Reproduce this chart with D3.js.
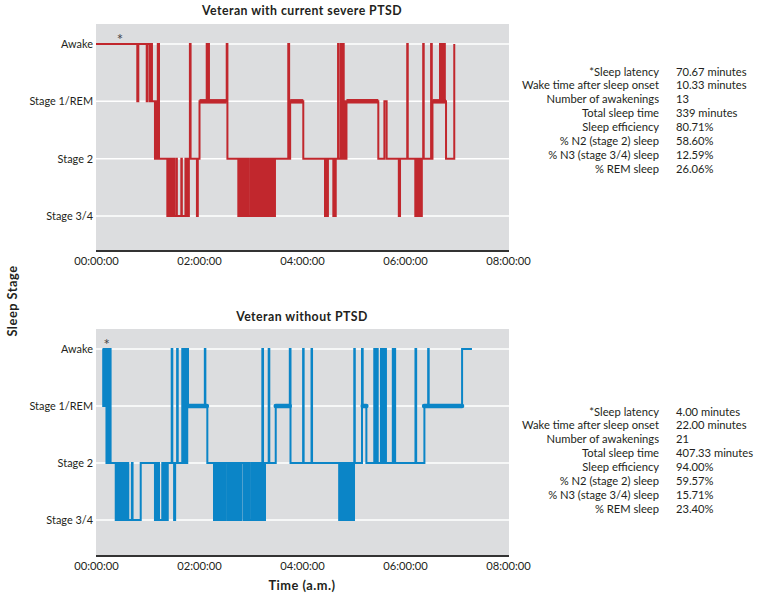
<!DOCTYPE html>
<html>
<head>
<meta charset="utf-8">
<script src="https://cdn.jsdelivr.net/npm/d3@7"></script>
<style>
  html, body { margin: 0; padding: 0; background: #ffffff; }
  svg { display: block; font-family: Lato, "Open Sans", sans-serif; }
</style>
</head>
<body>
<svg id="chart" width="764" height="599"></svg>
<script>
// ---------------- data ----------------
const stageLabels = ["Awake", "Stage 1/REM", "Stage 2", "Stage 3/4"];
const timeTicks = [0, 120, 240, 360, 480]; // minutes
const panelTitles = ["Veteran with current severe PTSD", "Veteran without PTSD"];

// [minute, stage] change points (0 = Awake, 1 = Stage 1/REM, 2 = Stage 2, 3 = Stage 3/4)
const ptsdSteps = [
  [0,0],
  [48.1,1],[49.3,0],[59.1,1],[60.2,0],[62.9,1],[64.1,0],[65.2,1],
  [68.7,2],[69.9,1],[70.8,2],[72.0,0],[73.4,2],
  [83.1,3],[84.1,2],[85.1,3],[86.1,2],[87.1,3],[88.1,2],[89.1,3],[90.1,2],[91.1,3],
  [93.6,2],[94.2,3],
  [99.4,2],[100.0,3],[104.2,2],[104.8,3],[106.4,2],[107.2,3],[108.2,2],[109.4,0],[110.2,2],
  [117.6,3],[118.6,2],
  [120.6,1],[129.0,0],[129.8,1],[130.8,0],[131.6,1],
  [152.3,0],[153.1,2],
  [165.8,3],[167.0,2],[168.2,3],[169.4,2],[170.6,3],[171.8,2],[173.0,3],[174.2,2],[175.4,3],[176.6,2],[177.8,3],
  [180.2,2],[181.4,3],[182.6,2],[183.8,3],[185.0,2],[186.2,3],[187.4,2],[188.6,3],[189.8,2],[191.0,3],[191.9,2],
  [193.4,3],[194.6,2],[195.8,3],[197.0,2],[198.2,3],[199.4,2],[200.6,3],[201.8,2],[203.0,3],[204.2,2],[205.4,3],[206.6,2],[207.8,3],[208.5,2],
  [224.0,0],[225.0,2],[226.2,1],[241.5,2],
  [266.8,3],[267.4,2],[269.6,3],[270.2,2],[276.5,3],[277.3,2],[278.3,3],[279.3,2],
  [282.0,0],[282.6,2],[285.2,0],[285.8,1],[286.6,2],[287.4,1],[288.0,0],[288.6,1],[289.4,2],[290.2,1],[291.0,2],[291.8,1],
  [328.9,2],[336.0,1],[338.6,2],
  [352.8,3],[354.2,2],[362.6,0],[363.2,2],
  [372.0,3],[373.0,2],[374.0,3],[375.0,2],[376.6,3],[377.6,2],[378.6,3],[379.6,2],
  [381.2,0],[381.8,2],
  [390.4,0],[391.2,2],[392.0,1],
  [400.8,0],[401.6,1],[402.4,0],[403.2,1],[404.0,0],[404.8,1],[405.6,0],[406.4,1],
  [407.8,2],[417.4,0]
];
const ptsdREM = [[120.6,152.3],[226.2,241.5],[291.8,328.9],[392.0,407.8]];

const controlSteps = [
  [7.6,0],[8.4,1],[9.2,0],[10.0,1],[10.8,0],[11.6,1],[12.2,2],[13.0,0],[13.8,2],[14.6,0],[15.4,2],[16.2,0],[17.0,2],
  [23.0,3],[23.8,2],[24.6,3],[25.4,2],[26.4,3],[27.2,2],[28.0,3],[28.8,2],[29.6,3],[30.4,2],[31.2,3],[32.0,2],[32.8,3],[33.6,2],[34.4,3],[35.2,2],[36.0,3],[36.8,2],[37.6,3],
  [41.8,2],[42.6,3],[52.1,2],
  [68.7,3],[69.5,2],[70.3,3],[71.1,2],[71.9,3],[72.7,2],[73.4,3],[77.2,2],[78.0,3],[78.8,2],[79.6,3],[80.4,2],[81.2,3],[82.0,2],[82.8,3],[83.6,2],
  [88.2,0],[88.9,2],[91.0,3],[92.2,2],[94.5,0],[95.2,2],
  [100.5,0],[101.5,2],[102.5,0],[103.5,2],[104.5,0],[105.5,2],[106.3,0],[107.2,1],
  [126.8,0],[127.4,1],[129.7,2],
  [137.5,3],[138.7,2],[139.9,3],[141.1,2],[142.3,3],[143.3,2],[145.3,3],[146.5,2],[147.7,3],[148.9,2],[150.1,3],[151.1,2],
  [153.5,3],[154.7,2],[155.9,3],[157.1,2],[158.3,3],[159.5,2],[160.7,3],[161.9,2],[163.1,3],[164.3,2],[165.5,3],[166.7,2],[167.9,3],[169.1,2],
  [171.8,3],[173.0,2],[174.2,3],[175.4,2],[176.6,3],[177.8,2],[178.8,3],[181.2,2],[182.4,3],[183.6,2],[184.8,3],[186.0,2],[187.2,3],[188.4,2],[189.6,3],[190.8,2],[192.0,3],[193.0,2],
  [193.8,0],[194.6,3],[196.9,2],
  [201.2,0],[201.9,2],[209.4,1],[225.8,0],[226.6,2],
  [241.3,0],[241.9,2],[251.1,0],[251.7,2],
  [283.3,3],[284.2,2],[285.0,3],[286.0,2],[288.1,3],[289.0,2],[290.0,3],[290.9,2],[291.8,3],[293.9,2],[294.7,3],[295.6,2],[296.5,3],[297.4,2],[298.3,3],[299.2,2],[300.0,3],[300.6,2],
  [300.9,0],[301.5,2],
  [309.9,0],[310.7,1],[315.0,2],
  [324.2,0],[325.0,2],[325.8,0],[326.6,2],[327.4,0],[328.2,2],
  [332.0,0],[332.8,2],[333.6,0],[334.4,2],[335.2,0],[336.0,2],[336.8,0],[337.8,2],
  [345.8,0],[346.6,2],[347.6,0],[348.5,2],
  [372.2,0],[373.0,2],
  [382.6,1],[387.0,0],[387.6,1],
  [426.5,0],[438.0,0]
];
const controlREM = [[107.2,129.2],[209.4,225.8],[310.7,315.0],[382.2,426.5]];

const latencyMarks = [28, 12.4]; // minutes where "*" sits

const statLabels = ["*Sleep latency", "Wake time after sleep onset", "Number of awakenings", "Total sleep time",
  "Sleep efficiency", "% N2 (stage 2) sleep", "% N3 (stage 3/4) sleep", "% REM sleep"];
const ptsdStats = ["70.67 minutes", "10.33 minutes", "13", "339 minutes", "80.71%", "58.60%", "12.59%", "26.06%"];
const controlStats = ["4.00 minutes", "22.00 minutes", "21", "407.33 minutes", "94.00%", "59.57%", "15.71%", "23.40%"];

// ---------------- drawing ----------------
const svg = d3.select("#chart");
const textColor = "#231f20";
const fontSize = 11.2;
const tickFont = 10.9;
const boldFont = 12.3;

const x = d3.scaleLinear().domain([0, 480]).range([96, 508]);
const fmtTime = m => {
  const h = Math.floor(m / 60), mm = Math.round(m % 60);
  return String(h).padStart(2, "0") + ":" + String(mm).padStart(2, "0") + ":00";
};

const panels = [
  { title: panelTitles[0], steps: ptsdSteps, rem: ptsdREM, color: "#c1272d", top: 24, bottom: 251, y0: 44, y3: 216,
    star: latencyMarks[0], stats: ptsdStats, statY: 71.7, cap: "butt", titleY: 11 },
  { title: panelTitles[1], steps: controlSteps, rem: controlREM, color: "#0b85c7", top: 329, bottom: 556, y0: 349, y3: 520,
    star: latencyMarks[1], stats: controlStats, statY: 411.7, cap: "round", titleY: 317 }
];

panels.forEach(p => {
  const y = d3.scaleLinear().domain([0, 3]).range([p.y0, p.y3]);
  const g = svg.append("g");

  g.append("rect").attr("x", 96).attr("y", p.top).attr("width", 413).attr("height", p.bottom - p.top)
    .attr("fill", "#dcdddf");

  // gridlines
  g.selectAll("line.grid").data([0, 1, 2, 3]).join("line")
    .attr("class", "grid")
    .attr("x1", 96).attr("x2", 509)
    .attr("y1", d => y(d)).attr("y2", d => y(d))
    .attr("stroke", "#ffffff").attr("stroke-width", 1.5);

  // title
  g.append("text").attr("x", 302).attr("y", p.titleY).attr("dy", "0.35em")
    .attr("text-anchor", "middle").attr("font-weight", "bold").attr("font-size", boldFont)
    .attr("letter-spacing", "0.45px")
    .attr("fill", textColor).text(p.title);

  // y axis
  const yAxis = d3.axisLeft(y).tickValues([0, 1, 2, 3]).tickFormat(d => stageLabels[d]).tickSize(0).tickPadding(3);
  const ya = g.append("g").attr("transform", "translate(96,0)").call(yAxis);
  ya.select(".domain").remove();
  ya.selectAll("text").attr("font-size", tickFont).attr("fill", textColor).attr("font-family", "Lato, 'Open Sans', sans-serif");

  // x axis
  const xAxis = d3.axisBottom(x).tickValues(timeTicks).tickFormat(fmtTime).tickSize(0).tickPadding(6);
  const xa = g.append("g").attr("transform", `translate(0,${p.bottom})`).call(xAxis);
  xa.select(".domain").attr("d", "M96,0H509").attr("stroke", "#333333").attr("stroke-width", 2.2);
  xa.selectAll("text").attr("font-size", fontSize).attr("fill", textColor).attr("font-family", "Lato, 'Open Sans', sans-serif");

  // hypnogram line
  const line = d3.line().x(d => x(d[0])).y(d => y(d[1])).curve(d3.curveStepAfter);
  g.append("path").datum(p.steps).attr("d", line)
    .attr("fill", "none").attr("stroke", p.color).attr("stroke-width", 2).attr("stroke-linejoin", "miter");

  // REM bars (thick)
  g.selectAll("line.rem").data(p.rem).join("line")
    .attr("class", "rem")
    .attr("x1", d => x(d[0])).attr("x2", d => x(d[1]))
    .attr("y1", y(1)).attr("y2", y(1))
    .attr("stroke", p.color).attr("stroke-width", 4.5).attr("stroke-linecap", p.cap);

  // latency asterisk
  g.append("text").attr("x", x(p.star)).attr("y", p.y0 - 4).attr("dy", "0.35em")
    .attr("text-anchor", "middle").attr("font-size", 15).attr("fill", "#444444").text("*");

  // stats
  statLabels.forEach((lab, i) => {
    g.append("text").attr("x", 659).attr("y", p.statY + i * 13.85).attr("dy", "0.35em")
      .attr("text-anchor", "end").attr("font-size", fontSize).attr("fill", textColor).text(lab);
    g.append("text").attr("x", 676).attr("y", p.statY + i * 13.85).attr("dy", "0.35em")
      .attr("text-anchor", "start").attr("font-size", fontSize).attr("fill", textColor).text(p.stats[i]);
  });
});

// shared axis titles
svg.append("text").attr("transform", "translate(13,301) rotate(-90)").attr("dy", "0.35em")
  .attr("text-anchor", "middle").attr("font-weight", "bold").attr("font-size", boldFont + 0.5)
  .attr("letter-spacing", "0.5px")
  .attr("fill", textColor).text("Sleep Stage");
svg.append("text").attr("x", 302).attr("y", 586).attr("dy", "0.35em")
  .attr("text-anchor", "middle").attr("font-weight", "bold").attr("font-size", boldFont + 0.5)
  .attr("letter-spacing", "0.5px")
  .attr("fill", textColor).text("Time (a.m.)");
</script>
</body>
</html>
